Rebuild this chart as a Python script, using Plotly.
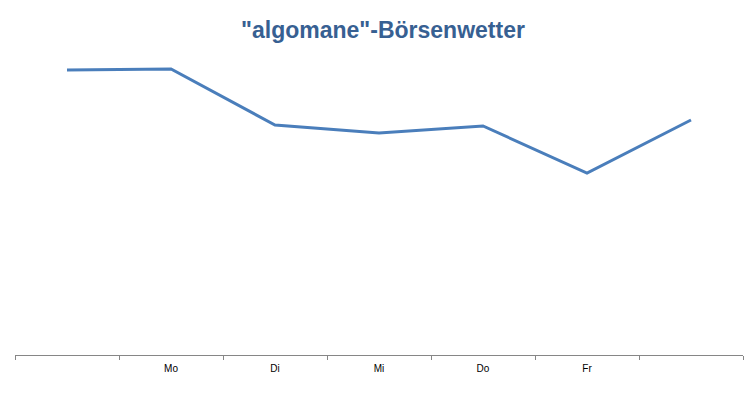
import plotly.graph_objects as go

labels = ["", "Mo", "Di", "Mi", "Do", "Fr", ""]
values = [285, 286, 230, 222, 229, 182, 235]
positions = list(range(len(labels)))

fig = go.Figure()
fig.add_trace(go.Scatter(
    x=positions, y=values, mode="lines",
    line=dict(color="#4A7EBB", width=3),
    hoverinfo="skip", showlegend=False,
))

fig.update_layout(
    width=753, height=400,
    margin=dict(l=7, r=18, t=47, b=53, autoexpand=False),
    paper_bgcolor="white", plot_bgcolor="white",
    title=dict(text='"algomane"-Börsenwetter', x=0.498, xanchor="center", y=0.945, yanchor="middle",
               font=dict(family="Liberation Sans, Arial", size=23, color="#376092", weight="bold")),
    font=dict(family="Liberation Sans, Arial", size=10, color="#000000"),
    xaxis=dict(
        range=[-0.5, 6.5], showgrid=False, zeroline=False,
        showline=True, linecolor="#868686", linewidth=1,
        tickmode="array", tickvals=positions, ticktext=labels, ticks="",
        ticklabelstandoff=4,
        minor=dict(tick0=0.5, dtick=1, ticks="outside", ticklen=4, tickcolor="#868686", showgrid=False),
        fixedrange=True,
    ),
    yaxis=dict(range=[0, 300], visible=False, fixedrange=True),
)

fig.write_html("out.html")
